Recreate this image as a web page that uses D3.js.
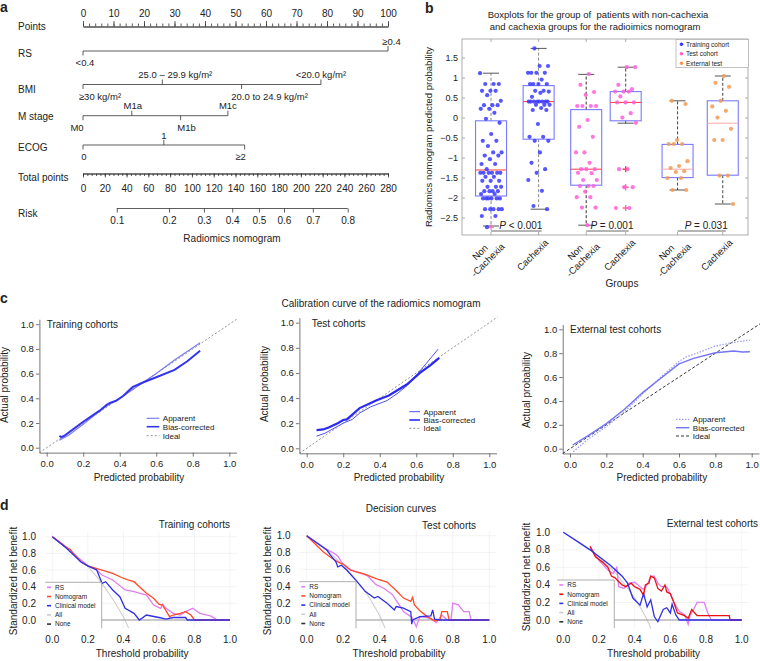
<!DOCTYPE html>
<html><head><meta charset="utf-8">
<script src="https://cdn.jsdelivr.net/npm/d3@7"></script>
<style>
body{margin:0;background:#fff}
svg{display:block}
text{font-family:"Liberation Sans",Arial,Helvetica,sans-serif;fill:#222}
</style>
</head><body>
<svg id="fig" width="760" height="661"></svg>
<script>
// ================= DATA =================
// ---- Panel a: nomogram ----
const pointsTicks = [0,10,20,30,40,50,60,70,80,90,100];
const totalTicks = [0,20,40,60,80,100,120,140,160,180,200,220,240,260,280];
const rsLevels = ["<0.4","≥0.4"];
const rsPoints = [0,100];
const bmiLevels = ["≥30 kg/m²","25.0 – 29.9 kg/m²","20.0 to 24.9 kg/m²","<20.0 kg/m²"];
const bmiPoints = [0,26,52,78];
const mLevels = ["M0","M1a","M1b","M1c"];
const mPoints = [0,16,32,47.5];
const ecogLevels = ["0","1","≥2"];
const ecogPoints = [0,26.5,53];
const riskLabels = ["0.1","0.2","0.3","0.4","0.5","0.6","0.7","0.8"];
const riskTotalPoints = [31,79,111,137,161.5,184.5,211,243];

// ---- Panel b: boxplots ----
const groupLabels = [["Non","-Cachexia"],["Cachexia"],["Non","-Cachexia"],["Cachexia"],["Non","-Cachexia"],["Cachexia"]];
const groupPos = [1,2,3,3.83,4.92,5.87];
const groupCohort = [0,0,1,1,2,2];
const cohortNames = ["Training cohort","Test cohort","External test"];
const boxQ1 = [-1.95,-0.53,-1.68,-0.07,-1.49,-1.43];
const boxMed = [-1.30,0.41,-1.28,0.39,-1.28,-0.13];
const boxQ3 = [-0.07,0.81,0.21,0.66,-0.66,0.43];
const whiskLo = [-2.70,-2.28,-2.68,-0.13,-1.80,-2.15];
const whiskHi = [1.12,1.74,1.09,1.27,0.43,1.05];
const trainNon = [1.12,0.85,0.85,0.85,0.68,0.68,0.68,0.57,0.43,0.32,0.32,0.32,0.23,0.23,0.13,-0.02,-0.12,-0.40,-0.57,-0.57,-0.70,-0.86,-0.86,-0.94,-0.94,-1.03,-1.15,-1.15,-1.28,-1.37,-1.37,-1.37,-1.37,-1.37,-1.37,-1.47,-1.47,-1.57,-1.57,-1.57,-1.72,-1.72,-1.72,-1.83,-1.83,-1.83,-1.83,-1.90,-1.90,-2.01,-2.01,-2.01,-2.01,-2.01,-2.01,-2.28,-2.28,-2.28,-2.28,-2.28,-2.45,-2.45,-2.73];
const trainCach = [1.74,1.30,1.30,1.13,1.13,1.13,1.13,0.96,0.85,0.85,0.85,0.85,0.68,0.68,0.66,0.63,0.53,0.41,0.41,0.41,0.41,0.41,0.41,0.41,0.41,0.33,0.33,0.33,0.25,0.20,0.20,-0.15,-0.47,-0.47,-0.57,-0.57,-0.86,-1.12,-1.28,-1.37,-1.55,-1.82,-2.20,-2.28];
const testNon = [1.10,0.83,0.65,0.58,0.30,0.30,0.30,0.30,-0.05,-0.22,-0.47,-0.86,-0.86,-1.12,-1.28,-1.28,-1.28,-1.37,-1.38,-1.55,-1.55,-1.70,-1.70,-1.70,-1.84,-1.98,-1.98,-2.24,-2.24,-2.68];
const testCach = [1.27,1.27,0.83,0.72,0.66,0.66,0.66,0.54,0.39,0.39,0.39,0.12,0.01,-0.12,-1.28,-1.28,-1.73,-1.73,-2.25,-2.25];
const extNon = [0.43,0.35,-0.55,-0.65,-0.65,-0.65,-1.08,-1.20,-1.25,-1.33,-1.35,-1.50,-1.50,-1.80,-1.80];
const extCach = [1.05,0.88,0.78,0.43,0.29,0.18,0.01,-0.27,-0.55,-0.55,-1.44,-1.44,-2.15];
const pLabels = ["< 0.001","= 0.001","= 0.031"];
const bTicks = [-2.5,-2,-1.5,-1,-0.5,0,0.5,1,1.5];

// ---- Panel c: calibration ----
const calTicks = [0,0.2,0.4,0.6,0.8,1.0];
const calTrainApparent = [[0.07,0.06],[0.12,0.10],[0.2,0.19],[0.3,0.31],[0.35,0.355],[0.4,0.40],[0.5,0.50],[0.6,0.60],[0.7,0.71],[0.8,0.81],[0.84,0.85]];
const calTrainBias = [[0.07,0.097],[0.08,0.085],[0.1,0.10],[0.2,0.21],[0.29,0.30],[0.33,0.35],[0.35,0.365],[0.38,0.38],[0.42,0.42],[0.47,0.49],[0.53,0.53],[0.6,0.57],[0.7,0.63],[0.77,0.70],[0.84,0.785]];
const calTestApparent = [[0.054,0.097],[0.1,0.12],[0.2,0.20],[0.25,0.23],[0.29,0.28],[0.35,0.33],[0.44,0.38],[0.5,0.44],[0.55,0.50],[0.6,0.58],[0.64,0.65],[0.72,0.79]];
const calTestBias = [[0.054,0.145],[0.09,0.15],[0.12,0.166],[0.17,0.20],[0.2,0.225],[0.22,0.23],[0.29,0.32],[0.38,0.38],[0.45,0.42],[0.55,0.51],[0.62,0.60],[0.675,0.658],[0.726,0.72]];
const calExtApparent = [[0.018,-0.025],[0.1,0.08],[0.2,0.185],[0.3,0.31],[0.4,0.46],[0.5,0.60],[0.6,0.73],[0.64,0.77],[0.7,0.80],[0.8,0.86],[0.9,0.89],[0.99,0.91]];
const calExtBias = [[0.015,0.031],[0.1,0.11],[0.2,0.21],[0.3,0.33],[0.4,0.47],[0.5,0.59],[0.6,0.71],[0.68,0.757],[0.8,0.804],[0.9,0.818],[0.95,0.81],[0.99,0.812]];
const calLegend = ["Apparent","Bias-corrected","Ideal"];

// ---- Panel d: decision curves ----
const decTicks = [0,0.2,0.4,0.6,0.8,1.0];
const decLegend = ["RS","Nomogram","Clinical model","All","None"];
const decNone = [[0,0],[1,0]];
const trAll = [[0,1],[0.1,0.84],[0.2,0.64],[0.25,0.52],[0.3,0.38],[0.35,0.22],[0.4,0.04],[0.43,-0.1]];
const trRS = [[0,1],[0.05,0.92],[0.1,0.84],[0.15,0.74],[0.2,0.65],[0.25,0.6],[0.28,0.54],[0.34,0.48],[0.41,0.36],[0.46,0.34],[0.53,0.30],[0.57,0.18],[0.61,0.14],[0.62,0.19],[0.64,0.14],[0.68,0.08],[0.72,0.06],[0.75,0.10],[0.79,0.14],[0.83,0.08],[0.89,0.05],[0.93,0],[1,0]];
const trNomo = [[0,1],[0.05,0.92],[0.08,0.87],[0.1,0.85],[0.12,0.79],[0.16,0.70],[0.2,0.65],[0.28,0.60],[0.34,0.56],[0.39,0.51],[0.43,0.48],[0.46,0.46],[0.49,0.40],[0.53,0.32],[0.57,0.26],[0.6,0.19],[0.62,0.18],[0.64,0.11],[0.66,0.04],[0.68,0.06],[0.72,0.08],[0.75,0.10],[0.78,0.06],[0.8,0],[1,0]];
const trClin = [[0,1],[0.08,0.86],[0.16,0.70],[0.2,0.65],[0.25,0.60],[0.28,0.44],[0.3,0.46],[0.34,0.36],[0.38,0.28],[0.41,0.14],[0.46,0.08],[0.49,0],[0.53,0.06],[0.6,0.03],[0.64,0.01],[0.68,0.03],[0.75,0.03],[0.76,0],[1,0]];
const teAll = [[0,1],[0.1,0.85],[0.2,0.65],[0.25,0.53],[0.3,0.40],[0.35,0.24],[0.4,0.05],[0.43,-0.1]];
const teRS = [[0,1],[0.1,0.85],[0.15,0.79],[0.17,0.76],[0.19,0.69],[0.22,0.62],[0.27,0.57],[0.33,0.53],[0.38,0.42],[0.42,0.38],[0.47,0.30],[0.5,0.20],[0.53,0.10],[0.57,0.04],[0.58,0.02],[0.6,-0.08],[0.62,0.04],[0.68,0.02],[0.71,-0.03],[0.74,0.06],[0.77,0],[0.79,0],[0.8,0.20],[0.83,0.18],[0.86,0.10],[0.89,0.10],[0.9,0],[1,0]];
const teNomo = [[0,1],[0.09,0.81],[0.14,0.73],[0.17,0.69],[0.21,0.65],[0.24,0.59],[0.31,0.55],[0.38,0.49],[0.44,0.45],[0.49,0.35],[0.53,0.26],[0.57,0.22],[0.58,0.27],[0.59,0.18],[0.62,0.11],[0.66,0.04],[0.7,-0.01],[0.73,0],[0.74,0.10],[0.77,0.10],[0.78,0],[1,0]];
const teClin = [[0,1],[0.11,0.83],[0.13,0.77],[0.16,0.69],[0.17,0.63],[0.19,0.65],[0.22,0.59],[0.27,0.47],[0.32,0.34],[0.37,0.26],[0.39,0.28],[0.44,0.20],[0.46,0.16],[0.48,0.12],[0.49,0.16],[0.53,0.14],[0.57,0.10],[0.575,-0.05],[0.58,0],[0.62,0.04],[0.68,0.05],[0.69,0.12],[0.7,0.01],[0.73,0],[1,0]];
const exAll = [[0,1],[0.1,0.875],[0.15,0.8],[0.2,0.72],[0.26,0.6],[0.3,0.52],[0.35,0.39],[0.4,0.25],[0.45,0.08],[0.48,-0.04],[0.49,-0.1]];
const exRS = [[0.15,0.84],[0.2,0.68],[0.25,0.57],[0.28,0.53],[0.3,0.60],[0.31,0.38],[0.34,0.36],[0.37,0.42],[0.4,0.43],[0.43,0.38],[0.45,0.35],[0.47,0.40],[0.49,0.50],[0.51,0.50],[0.53,0.42],[0.55,0.38],[0.58,0.38],[0.6,0.30],[0.62,0.20],[0.65,0.10],[0.68,0.06],[0.7,-0.05],[0.71,0.05],[0.73,0.12],[0.75,0.20],[0.79,0.20],[0.81,0.08],[0.83,0],[1,0]];
const exNomo = [[0.15,0.84],[0.16,0.80],[0.18,0.72],[0.22,0.66],[0.25,0.60],[0.27,0.50],[0.29,0.48],[0.31,0.44],[0.33,0.40],[0.35,0.38],[0.38,0.42],[0.4,0.38],[0.43,0.35],[0.45,0.28],[0.46,0.40],[0.48,0.42],[0.49,0.50],[0.51,0.48],[0.53,0.36],[0.55,0.33],[0.57,0.40],[0.58,0.32],[0.6,0.30],[0.62,0.20],[0.64,0.08],[0.68,0.05],[0.7,0.02],[0.72,0.12],[0.75,0.05],[0.93,0.05],[0.935,0],[1,0]];
const exClin = [[0,1],[0.15,0.80],[0.26,0.63],[0.33,0.50],[0.36,0.42],[0.39,0.25],[0.43,0.17],[0.45,0.30],[0.47,0.15],[0.49,0.23],[0.51,0.04],[0.53,-0.02],[0.56,0.12],[0.58,0.14],[0.6,0.08],[0.61,0.18],[0.63,0.06],[0.65,0],[1,0]];

// ================= DRAWING =================
const svg = d3.select("#fig");
svg.append("rect").attr("width",760).attr("height",661).attr("fill","#fff");
const FF = '"Liberation Sans", Arial, Helvetica, sans-serif';

function T(p,x,y,s,size,anchor){
  return p.append("text").attr("x",x).attr("y",y).attr("font-size",size)
    .attr("text-anchor",anchor||"start").text(s);
}
function styleAxis(sel,fs,col){
  col = col||"#333";
  sel.attr("font-family",FF);
  sel.select(".domain").attr("stroke",col).attr("stroke-width",0.8);
  sel.selectAll(".tick line").attr("stroke",col).attr("stroke-width",0.8);
  sel.selectAll(".tick text").attr("font-size",fs).attr("fill","#222");
}

// panel letters
T(svg,0,12,"a",14).attr("font-weight","bold");
T(svg,425,12.7,"b",14).attr("font-weight","bold");
T(svg,0,302.7,"c",14).attr("font-weight","bold");
T(svg,0,510,"d",14).attr("font-weight","bold");

// ---------- Panel a ----------
const ga = svg.append("g");
const xPts = d3.scaleLinear().domain([0,100]).range([83,388]);
const xTot = d3.scaleLinear().domain([0,280]).range([83,388]);
const rowY = {points:26.5, rs:51, bmi:84.5, m:115.7, ecog:145, total:173.5, risk:208.5};
[["Points",rowY.points+3],["RS",rowY.rs+6],["BMI",rowY.bmi+8.5],["M stage",rowY.m+4.5],
 ["ECOG",rowY.ecog+5.5],["Total points",rowY.total+7],["Risk",rowY.risk+8]]
 .forEach(r=>T(ga,18,r[1],r[0],10));

// points axis
const pMinor = ga.append("g").attr("transform",`translate(0,${rowY.points})`)
  .call(d3.axisTop(xPts).tickValues(d3.range(0,101,2)).tickSize(3).tickSizeOuter(0).tickFormat(""));
styleAxis(pMinor,10);
const pMajor = ga.append("g").attr("transform",`translate(0,${rowY.points})`)
  .call(d3.axisTop(xPts).tickValues(pointsTicks).tickSize(5.5).tickSizeOuter(0).tickPadding(4));
styleAxis(pMajor,10);

function catRow(y,levels,pts,dxs){
  const g = ga.append("g");
  g.append("line").attr("x1",xPts(d3.min(pts))).attr("x2",xPts(d3.max(pts)))
    .attr("y1",y).attr("y2",y).attr("stroke","#333").attr("stroke-width",0.8);
  levels.forEach((lab,i)=>{
    const up = i%2===1, xx = xPts(pts[i]);
    g.append("line").attr("x1",xx).attr("x2",xx).attr("y1",y).attr("y2",up?y-5:y+4.5)
      .attr("stroke","#333").attr("stroke-width",0.8);
    T(g,xx+dxs[i],up?y-6.5:y+15,lab,9.5,"middle");
  });
}
catRow(rowY.rs,rsLevels,rsPoints,[2,3.5]);
catRow(rowY.bmi,bmiLevels,bmiPoints,[17,13,28,0]);
catRow(rowY.m,mLevels,mPoints,[-6,1,6,0]);
catRow(rowY.ecog,ecogLevels,ecogPoints,[1,0,-4]);

// total points
const tMinor = ga.append("g").attr("transform",`translate(0,${rowY.total})`)
  .call(d3.axisBottom(xTot).tickValues(d3.range(0,281,4)).tickSize(2.5).tickSizeOuter(0).tickFormat(""));
styleAxis(tMinor,10);
const tMajor = ga.append("g").attr("transform",`translate(0,${rowY.total})`)
  .call(d3.axisBottom(xTot).tickValues(totalTicks).tickSize(4).tickSizeOuter(0).tickPadding(7.5));
styleAxis(tMajor,10);

// risk
const rAx = ga.append("g").attr("transform",`translate(0,${rowY.risk})`)
  .call(d3.axisBottom(xTot).tickValues(riskTotalPoints).tickFormat((d,i)=>riskLabels[i]).tickSize(4).tickSizeOuter(0).tickPadding(4.5));
styleAxis(rAx,10);
rAx.select(".domain").remove();
ga.append("line").attr("x1",xTot(d3.min(riskTotalPoints))).attr("x2",xTot(d3.max(riskTotalPoints)))
  .attr("y1",rowY.risk).attr("y2",rowY.risk).attr("stroke","#333").attr("stroke-width",0.8);
T(ga,232,241.7,"Radiomics nomogram",10,"middle");

// ---------- Panel b ----------
const gb = svg.append("g");
const xB = d3.scaleLinear().domain([0.39,6.4]).range([462,748]);
const yB = d3.scaleLinear().domain([-2.925,1.975]).range([235,39]);
const bFrame = {x0:462,x1:748,y0:39,y1:235};
T(gb,598,18.3,"Boxplots for the group of  patients with non-cachexia",9.5,"middle").attr("xml:space","preserve").style("white-space","pre");
T(gb,595,30,"and cachexia groups for the radioimics nomogram",9.5,"middle");
gb.append("rect").attr("x",bFrame.x0).attr("y",bFrame.y0).attr("width",bFrame.x1-bFrame.x0)
  .attr("height",bFrame.y1-bFrame.y0).attr("fill","#fff").attr("stroke","#999").attr("stroke-width",0.8);
// y ticks (inside) left & right
bTicks.forEach(v=>{
  const yy = yB(v);
  gb.append("line").attr("x1",bFrame.x0).attr("x2",bFrame.x0+3).attr("y1",yy).attr("y2",yy).attr("stroke","#999").attr("stroke-width",0.8);
  gb.append("line").attr("x1",bFrame.x1).attr("x2",bFrame.x1-3).attr("y1",yy).attr("y2",yy).attr("stroke","#999").attr("stroke-width",0.8);
  T(gb,bFrame.x0-4,yy+3.2,v===0?"0":d3.format("")(v).replace("-","−"),9,"end");
});
groupPos.forEach(p=>{
  const xx = xB(p);
  gb.append("line").attr("x1",xx).attr("x2",xx).attr("y1",bFrame.y0).attr("y2",bFrame.y0+3).attr("stroke","#999").attr("stroke-width",0.8);
  gb.append("line").attr("x1",xx).attr("x2",xx).attr("y1",bFrame.y1).attr("y2",bFrame.y1-3).attr("stroke","#999").attr("stroke-width",0.8);
});
const cohortColors = ["#3a3aff","#ff5fd7","#f59a52"];
const medColors = ["#ff3a3a","#ff3a3a","#ff3a3a","#ff3a3a","#ffa8a8","#ffa8a8"];
const whiskColors = ["#888","#888","#333","#444","#444","#444"];
const boxHalf = 15.5;
const groupVals = [trainNon,trainCach,testNon,testCach,extNon,extCach];
groupPos.forEach((p,i)=>{
  const cx = xB(p);
  // whiskers
  [[boxQ3[i],whiskHi[i]],[boxQ1[i],whiskLo[i]]].forEach(w=>{
    gb.append("line").attr("x1",cx).attr("x2",cx).attr("y1",yB(w[0])).attr("y2",yB(w[1]))
      .attr("stroke",whiskColors[i]).attr("stroke-width",1).attr("stroke-dasharray","3,2");
    gb.append("line").attr("x1",cx-8).attr("x2",cx+8).attr("y1",yB(w[1])).attr("y2",yB(w[1]))
      .attr("stroke","#444").attr("stroke-width",0.9);
  });
  // box
  gb.append("rect").attr("x",cx-boxHalf).attr("y",yB(boxQ3[i])).attr("width",boxHalf*2)
    .attr("height",yB(boxQ1[i])-yB(boxQ3[i])).attr("fill","none").attr("stroke","#7a7aff").attr("stroke-width",1.1);
  gb.append("line").attr("x1",cx-boxHalf).attr("x2",cx+boxHalf).attr("y1",yB(boxMed[i])).attr("y2",yB(boxMed[i]))
    .attr("stroke",medColors[i]).attr("stroke-width",1);
  // outliers (+)
  groupVals[i].filter(v=>v<whiskLo[i]-0.01||v>whiskHi[i]+0.01).forEach(v=>{
    const yy = yB(v);
    gb.append("path").attr("d",`M${cx-3},${yy}H${cx+3}M${cx},${yy-3}V${yy+3}`)
      .attr("stroke",v>-1.5?"#ff3030":"#ff5fa0").attr("stroke-width",1);
  });
  // points (deterministic jitter)
  groupVals[i].forEach((v,j)=>{
    const jit = (((j*0.6180339887+0.31*i)%1)-0.5)*22;
    gb.append("circle").attr("cx",cx+jit).attr("cy",yB(v)).attr("r",2.1)
      .attr("fill",cohortColors[groupCohort[i]]).attr("fill-opacity",0.85);
  });
});
// P value annotations
pLabels.forEach((s,k)=>{
  const xa = xB(groupPos[2*k]), xb2 = xB(groupPos[2*k+1]);
  gb.append("line").attr("x1",xa).attr("x2",xb2+3).attr("y1",231).attr("y2",231).attr("stroke","#444").attr("stroke-width",0.8);
  const t = gb.append("text").attr("x",(xa+xb2)/2+6).attr("y",229).attr("font-size",10).attr("text-anchor","middle")
    .attr("fill","#222");
  t.append("tspan").attr("font-style","italic").text("P");
  t.append("tspan").text(" "+s);
});
// x labels
groupLabels.forEach((lines,i)=>{
  const g = gb.append("g").attr("transform",`translate(${xB(groupPos[i])+8},241) rotate(-45)`);
  const ts = lines.map((l,k)=>g.append("text").attr("y",(k-(lines.length-1)/2)*11)
    .attr("dy","0.35em").attr("text-anchor","middle").attr("font-size",9.5).text(l));
  const w = d3.max(ts,t=>t.node().getComputedTextLength());
  ts.forEach(t=>t.attr("x",-w/2));
});
T(gb,622,287,"Groups",10,"middle");
T(gb,0,0,"Radiomics nomogram predicted probability",9.5,"middle").attr("transform","translate(432,137) rotate(-90)");
// legend
gb.append("rect").attr("x",676).attr("y",39.5).attr("width",72.5).attr("height",28)
  .attr("fill","#fff").attr("stroke","#aaa").attr("stroke-width",0.7);
cohortNames.forEach((n,k)=>{
  const yy = 44.3+k*9.5;
  gb.append("circle").attr("cx",681.5).attr("cy",yy).attr("r",1.8).attr("fill",cohortColors[k]);
  T(gb,686,yy+2.3,n,6.5);
});

// ---------- Panel c ----------
T(svg,381,307.3,"Calibration curve of the radiomics nomogram",10,"middle");
function calPlot(o){
  const g = svg.append("g");
  const x = d3.scaleLinear().domain([0,1]).range([o.x0,o.x1]);
  const y = d3.scaleLinear().domain([0,1]).range([o.y0,o.y1]);
  const xAx = d3.scaleLinear().domain([-0.04,1.04]).range([x(-0.04),x(1.04)]);
  const yAx = d3.scaleLinear().domain([-0.04,1.04]).range([y(-0.04),y(1.04)]);
  const ax1 = g.append("g").attr("transform",`translate(0,${y(-0.04)})`)
    .call(d3.axisBottom(xAx).tickValues(calTicks).tickFormat(d3.format(".1f")).tickSize(4).tickSizeOuter(0).tickPadding(3.5));
  styleAxis(ax1,9.5,"#555");
  const ax2 = g.append("g").attr("transform",`translate(${x(-0.04)},0)`)
    .call(d3.axisLeft(yAx).tickValues(calTicks).tickFormat(d3.format(".1f")).tickSize(3.5).tickSizeOuter(0).tickPadding(2));
  styleAxis(ax2,9.5,"#555");
  const line = d3.line().x(d=>x(d[0])).y(d=>y(d[1]));
  g.append("path").attr("d",line([[-0.04,-0.04],[o.idealEnd,o.idealEnd]])).attr("fill","none")
    .attr("stroke",o.ideal.c).attr("stroke-width",o.ideal.w).attr("stroke-dasharray",o.ideal.d);
  g.append("path").attr("d",line(o.app)).attr("fill","none").attr("stroke",o.appS.c)
    .attr("stroke-width",o.appS.w).attr("stroke-dasharray",o.appS.d||null);
  g.append("path").attr("d",line(o.bias)).attr("fill","none").attr("stroke",o.biasS.c)
    .attr("stroke-width",o.biasS.w).attr("stroke-dasharray",o.biasS.d||null);
  T(g,o.tx,o.ty,o.title,10);
  T(g,(o.x0+o.x1)/2+1,481,"Predicted probability",10,"middle");
  T(g,0,0,"Actual probability",10,"middle").attr("transform",`translate(${o.ylx},${o.yly}) rotate(-90)`);
  const styles = [o.appS,o.biasS,o.ideal];
  calLegend.forEach((n,k)=>{
    const yy = o.ly[k];
    g.append("line").attr("x1",o.lx0).attr("x2",o.lx1).attr("y1",yy).attr("y2",yy)
      .attr("stroke",styles[k].c).attr("stroke-width",Math.min(styles[k].w,1.6)).attr("stroke-dasharray",styles[k].d||null);
    T(g,o.lx1+3.5,yy+3,n,8);
  });
}
calPlot({x0:46.7,x1:229.3,y0:447.7,y1:324.2,app:calTrainApparent,bias:calTrainBias,idealEnd:1.045,
  appS:{c:"#7d7df2",w:1.2},biasS:{c:"#3434ee",w:2},ideal:{c:"#777",w:0.8,d:"2,2"},
  title:"Training cohorts",tx:46.7,ty:328.3,ylx:8,yly:385,lx0:146.7,lx1:159.3,ly:[418.3,426.7,435.7]});
calPlot({x0:306.7,x1:489.3,y0:448.3,y1:322.7,app:calTestApparent,bias:calTestBias,idealEnd:1.045,
  appS:{c:"#5050f5",w:1},biasS:{c:"#2a2aef",w:2.2},ideal:{c:"#777",w:0.8,d:"2,2"},
  title:"Test cohorts",tx:311.7,ty:326.7,ylx:268,yly:384,lx0:409.3,lx1:420,ly:[411.7,420,428.3]});
calPlot({x0:570,x1:751.7,y0:448.7,y1:329.3,app:calExtApparent,bias:calExtBias,idealEnd:1.1,
  appS:{c:"#9c9cf6",w:1.3,d:"1.5,1.5"},biasS:{c:"#7474f4",w:1.4},ideal:{c:"#222",w:0.9,d:"3,2"},
  title:"External test cohorts",tx:570,ty:332.7,ylx:530,yly:390,lx0:676,lx1:689.3,ly:[419.3,427.7,436]});

// ---------- Panel d ----------
T(svg,401,512.3,"Decision curves",10,"middle");
function decPlot(o){
  const g = svg.append("g");
  const x = d3.scaleLinear().domain([0,1]).range([o.x0,o.x1]);
  const y = d3.scaleLinear().domain([0,1]).range([o.y0,o.y1]);
  const L = x(-0.04), R = x(1.04), TP = y(1.06), B = y(-0.1);
  g.append("clipPath").attr("id","clip"+o.id).append("rect").attr("x",L).attr("y",TP).attr("width",R-L).attr("height",B-TP);
  decTicks.forEach(v=>{
    g.append("line").attr("x1",x(v)).attr("x2",x(v)).attr("y1",TP).attr("y2",B).attr("stroke","#f0f0f0").attr("stroke-width",0.8);
    g.append("line").attr("x1",L).attr("x2",R).attr("y1",y(v)).attr("y2",y(v)).attr("stroke","#f0f0f0").attr("stroke-width",0.8);
    T(g,x(v),643.3,d3.format(".1f")(v),10,"middle");
    T(g,o.ytx,y(v)+3.5,d3.format(".1f")(v),10,"end");
  });
  const line = d3.line().x(d=>x(d[0])).y(d=>y(d[1]));
  const cg = g.append("g").attr("clip-path",`url(#clip${o.id})`);
  const cols = {rs:"#e07ef2",nomo:o.nomoCol,clin:"#2f2fe6",all:"#cfcfcf",none:"#999"};
  cg.append("path").attr("d",line(o.all)).attr("fill","none").attr("stroke",cols.all).attr("stroke-width",1.1);
  cg.append("path").attr("d",line(decNone)).attr("fill","none").attr("stroke",cols.none).attr("stroke-width",1.1);
  cg.append("path").attr("d",line(o.rs)).attr("fill","none").attr("stroke",cols.rs).attr("stroke-width",1.3);
  cg.append("path").attr("d",line(o.nomo)).attr("fill","none").attr("stroke",cols.nomo).attr("stroke-width",1.3);
  cg.append("path").attr("d",line(o.clin)).attr("fill","none").attr("stroke",cols.clin).attr("stroke-width",1.3);
  // legend
  g.append("rect").attr("x",o.lb[0]).attr("y",o.lb[1]).attr("width",o.lb[2]-o.lb[0]).attr("height",o.lb[3]-o.lb[1]).attr("fill","#fff");
  g.append("path").attr("d",`M${o.lb[0]},${o.lb[1]}H${o.lb[2]}V${o.lb[3]}`).attr("fill","none").attr("stroke","#999").attr("stroke-width",0.8);
  const lc = [cols.rs,cols.nomo,cols.clin,"#ccc","#333"];
  decLegend.forEach((n,k)=>{
    const yy = o.lb[1]+5+k*9.2;
    g.append("line").attr("x1",o.lb[0]+2).attr("x2",o.lb[0]+6).attr("y1",yy).attr("y2",yy).attr("stroke",lc[k]).attr("stroke-width",1.6);
    T(g,o.lb[0]+10,yy+2.3,n,6.5);
  });
  T(g,o.ttx,o.tty,o.title,10,"end");
  T(g,(o.x0+o.x1)/2+1,656.5,"Threshold probability",10,"middle");
  T(g,0,0,"Standardized net benefit",10,"middle").attr("transform",`translate(${o.ylx},${o.yly}) rotate(-90)`);
}
decPlot({id:1,x0:52.3,x1:230,y0:620,y1:536.7,all:trAll,rs:trRS,nomo:trNomo,clin:trClin,nomoCol:"#ff4a26",
  lb:[45,582.3,101.7,628.3],ytx:36,title:"Training cohorts",ttx:230,tty:528.3,ylx:16.5,yly:581});
decPlot({id:2,x0:306.7,x1:489.3,y0:620,y1:535.7,all:teAll,rs:teRS,nomo:teNomo,clin:teClin,nomoCol:"#ff4a26",
  lb:[299.3,581.7,356,628.3],ytx:290.7,title:"Test cohorts",ttx:476,tty:529,ylx:270.5,yly:581});
decPlot({id:3,x0:563.3,x1:741.7,y0:620,y1:532.3,all:exAll,rs:exRS,nomo:exNomo,clin:exClin,nomoCol:"#e81010",
  lb:[557.3,580,614.3,628],ytx:550,title:"External test cohorts",ttx:758,tty:526.7,ylx:530,yly:577});
</script>
</body></html>
